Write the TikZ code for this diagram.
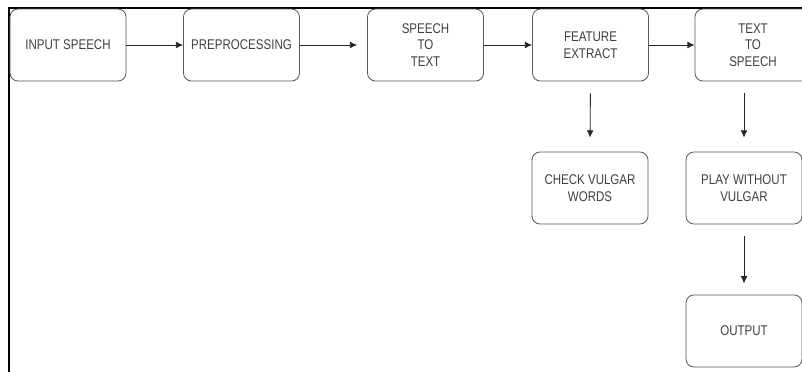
\documentclass[tikz,border=0pt]{standalone}
\usepackage{fontspec}
\setmainfont{Liberation Sans}[FakeStretch=0.82]
\usetikzlibrary{arrows.meta}
\definecolor{boxline}{HTML}{5A5A5A}
\definecolor{boxtext}{HTML}{404040}
\tikzstyle{stage} = [rectangle, rounded corners=.2cm, draw=boxline, line width=.6pt,
	minimum width=2.9cm, minimum height=1.8cm, align=center, text=boxtext,
	font=\fontsize{10}{11.8}\selectfont]
\tikzstyle{flow} = [draw=black!85, line width=.6pt, -{Latex[length=.18cm,width=.17cm]}]

\begin{document}
\begin{tikzpicture}[x=.025cm, y=-.025cm]
			\useasboundingbox (0,0) rectangle (802,372);
			\fill[white] (0,0) rectangle (802,372);
			% frame of the screenshot
			\draw[black, line width=1.2pt] (9,372) -- (9,8) -- (802,8);
			% top row
			\node [stage] (in)  at (68,45)    {INPUT SPEECH};
			\node [stage] (pre) at (241.5,45) {PREPROCESSING};
			\node [stage] (stt) at (425.5,45) {SPEECH\\TO\\TEXT};
			\node [stage] (fe)  at (590.5,45) {FEATURE\\EXTRACT};
			\node [stage] (tts) at (753,45)   {TEXT\\TO\\SPEECH};
			% lower boxes
			\node [stage] (cvw) at (590,188)  {CHECK VULGAR\\WORDS};
			\node [stage] (pwv) at (744,188)  {PLAY WITHOUT\\VULGAR};
			\node [stage] (out) at (744,331)  {OUTPUT};
			% arrows
			\draw [flow] (in.east) -- (pre.west);
			\draw [flow, shorten >=.25cm] (pre.east) -- (stt.west);
			\draw [flow] (stt.east) -- (fe.west);
			\draw [flow] (fe.east) -- (tts.west);
			\draw [flow, shorten <=.3cm, shorten >=.35cm] (fe.south) -- (cvw.north);
			\draw [flow, shorten <=.3cm, shorten >=.35cm] (pwv.north |- tts.south) -- (pwv.north);
			\draw [flow, shorten <=.3cm, shorten >=.28cm] (pwv.south) -- (out.north);
		\end{tikzpicture}
\end{document}
